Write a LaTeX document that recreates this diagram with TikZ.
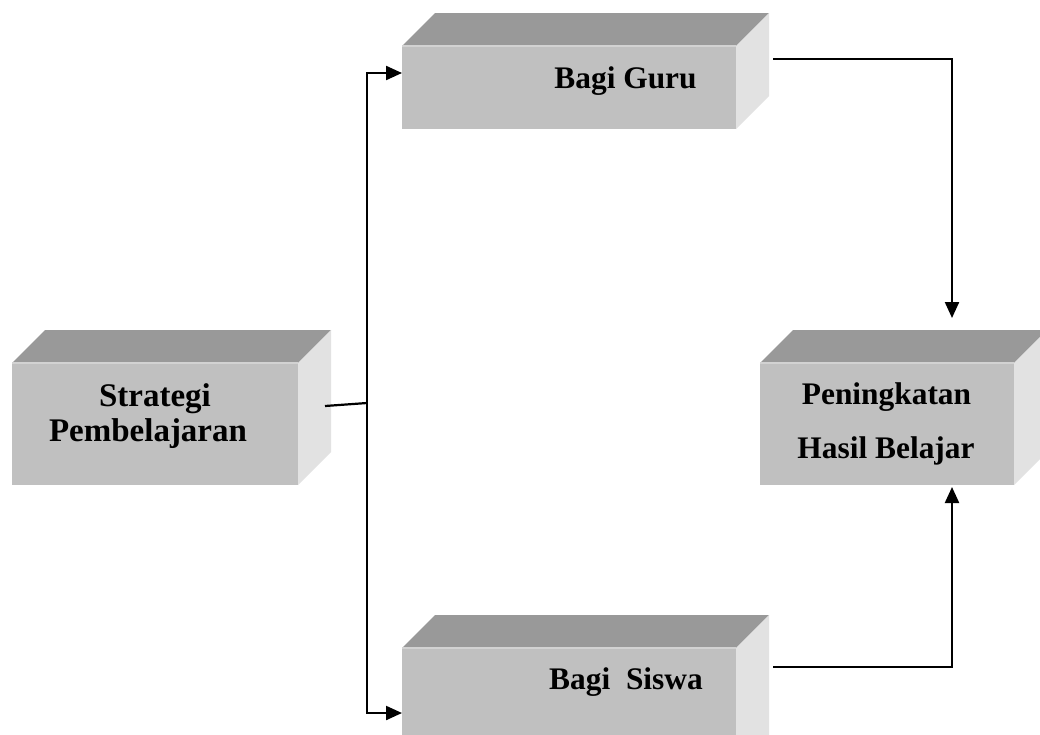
\documentclass[tikz,border=0pt]{standalone}
\usepackage{fontspec}
\setmainfont{Liberation Serif}
\usetikzlibrary{arrows.meta,calc}
\definecolor{topc}{HTML}{999999}
\definecolor{frontc}{HTML}{C0C0C0}
\definecolor{sidec}{HTML}{E2E2E2}
\definecolor{edgec}{HTML}{D2D2D2}
\tikzset{
  frontface/.style={fill=frontc, draw=none, inner sep=0pt, outer sep=0pt, anchor=north west},
  lbl/.style={font=\fontsize{31.4}{37}\selectfont\bfseries, inner sep=0pt, anchor=base},
  lblbig/.style={font=\fontsize{33}{40}\selectfont\bfseries, inner sep=0pt, anchor=base},
  conn/.style={line width=2.2pt, black},
  arr/.style={conn, -{Triangle[length=16pt,width=14pt]}},
}
\newcommand{\cuboidfaces}[1]{%
  \fill[topc] (#1.north west) -- ($(#1.north west)+(33,-33)$) -- ($(#1.north east)+(33,-33)$) -- (#1.north east) -- cycle;
  \fill[sidec] (#1.north east) -- ($(#1.north east)+(33,-33)$) -- ($(#1.south east)+(33,-33)$) -- (#1.south east) -- cycle;
  \draw[edgec, line width=1.5pt] (#1.north west) -- (#1.north east);
}
\begin{document}
\begin{tikzpicture}[x=1pt, y=-1pt]
\useasboundingbox (0,0) rectangle (1040,734);
\clip (0,0) rectangle (1040,734);
\fill[white] (0,0) rectangle (1040,734);

% boxes
\node[frontface, minimum width=286pt, minimum height=122pt] (strategi) at (12,363) {};
\cuboidfaces{strategi}
\node[frontface, minimum width=334pt, minimum height=83pt] (guru) at (402,46) {};
\cuboidfaces{guru}
\node[frontface, minimum width=254pt, minimum height=122pt] (hasil) at (760,363) {};
\cuboidfaces{hasil}
\node[frontface, minimum width=334pt, minimum height=120pt] (siswa) at (402,648) {};
\cuboidfaces{siswa}

% labels
\node[lblbig] (tstra) at (155,406.5) {Strategi};
\node[lblbig] (tpemb) at (148,441.5) {Pembelajaran};
\node[lbl] (tguru) at (625.5,88.3) {Bagi Guru};
\node[lbl] (tpen) at (886.5,404) {Peningkatan};
\node[lbl] (thas) at (886,458) {Hasil Belajar};
\node[lbl] (tsis) at (626,689) {Bagi\ \ Siswa};

% connector points
\coordinate (sout) at (325,406);
\coordinate (j) at (367,403);
\coordinate (gin) at (402,73);
\coordinate (sin) at (402,713);
\coordinate (gout) at (773,59);
\coordinate (hin1) at (952,318);
\coordinate (siout) at (773,667);
\coordinate (hin2) at (952,487);

\draw[conn] (sout) -- (j);
\draw[arr] (j) |- (gin);
\draw[arr] (j) |- (sin);
\draw[arr] (gout) -| (hin1);
\draw[arr] (siout) -| (hin2);
\end{tikzpicture}
\end{document}
